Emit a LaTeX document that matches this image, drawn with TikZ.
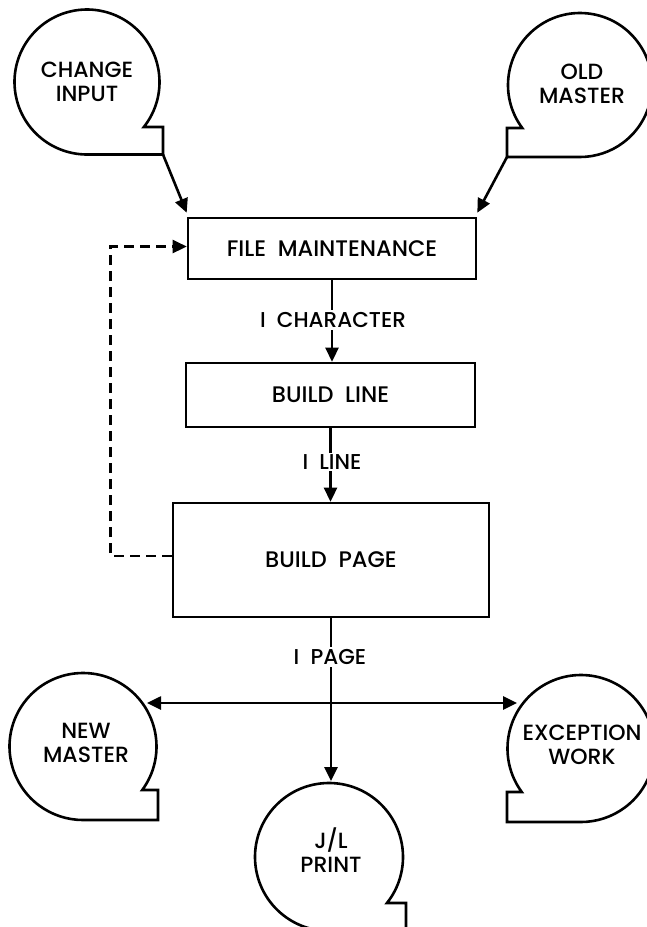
\documentclass[tikz,border=0pt]{standalone}
\usepackage{fontspec}
\setmainfont{Poppins}[UprightFont={* Medium}]
\usetikzlibrary{arrows.meta,calc}
\begin{document}
\begin{tikzpicture}[x=1pt,y=-1pt,line width=2.6pt,
  box/.style={draw,line width=2.6pt,inner sep=0pt,font=\fontsize{22.5}{25}\selectfont},
  tapetext/.style={align=center,inner sep=0pt,font=\fontsize{22}{24.5}\selectfont},
  tape/.style={draw,line width=2.6pt,line join=miter},
  arr/.style={-{Triangle[length=14pt,width=13pt]}},
  dbl/.style={{Triangle[length=14pt,width=13pt]}-{Triangle[length=14pt,width=13pt]}},
  lbl/.style={fill=white,inner sep=2pt,font=\fontsize{21.5}{24}\selectfont}]
\useasboundingbox (0,0) rectangle (647,927);

% boxes
\node[box,minimum width=288pt,minimum height=61pt] (fm) at (332,248.5) {FILE\ \ MAINTENANCE};
\node[box,minimum width=289pt,minimum height=64pt] (bl) at (330.5,395) {BUILD\ \ LINE};
\node[box,minimum width=316pt,minimum height=114pt] (bp) at (331,560) {BUILD\ \ PAGE};

% tapes
\draw[tape] ($(87,82)+(38.4:72.5)$) arc[start angle=38.4,end angle=-270,radius=72.5]
  -- (163,154.5) -- (163,127) -- cycle;
\node[tapetext] (ci) at (87,82) {CHANGE\\INPUT};
\coordinate (citail) at (163,154.5);

\draw[tape] ($(580,85)+(143.3:72)$) arc[start angle=143.3,end angle=450,radius=72]
  -- (507,157) -- (507,128) -- cycle;
\node[tapetext] (om) at (582,84) {OLD\\MASTER};
\coordinate (omtail) at (507,157);

\draw[tape] ($(83,746.5)+(36.3:73.5)$) arc[start angle=36.3,end angle=-270,radius=73.5]
  -- (158,820) -- (158,790) -- cycle;
\node[tapetext] (nm) at (86,743) {NEW\\MASTER};
\coordinate (nmtip) at (147,703);

\draw[tape] ($(581,748.5)+(143.7:73.5)$) arc[start angle=143.7,end angle=450,radius=73.5]
  -- (507,822) -- (507,792) -- cycle;
\node[tapetext] (ew) at (582,745) {EXCEPTION\\WORK};
\coordinate (ewtip) at (517,703);

\draw[tape] ($(329,857)+(38.4:74)$) arc[start angle=38.4,end angle=-270,radius=74]
  -- (406,931) -- (406,903) -- cycle;
\node[tapetext] (jl) at (331,850) {J/L\\PRINT};
\coordinate (jltop) at (329,781);

% connectors
\draw[arr] (citail) -- ($(fm.north west)+(0,-4)$);
\draw[arr] (omtail) -- ($(fm.north east)+(0,-4)$);
\draw[arr] (fm.south) -- (fm.south |- bl.north);
\draw[arr] (bl.south) -- (bl.south |- bp.north);
\draw[arr,dashed,dash pattern=on 10pt off 6pt] ($(bp.west)+(0,-4)$) -- ++(-61,0) |- ($(fm.west)+(0,-2)$);
\draw[arr] (bp.south) -- (bp.south |- jltop);
\draw[dbl] (nmtip) -- (ewtip);

% labels
\node[lbl] (l1) at (333,320) {I\ \ CHARACTER};
\node[lbl] (l2) at (332,462) {I\ \ LINE};
\node[lbl] (l3) at (330,657) {I\ \ PAGE};
\end{tikzpicture}
\end{document}
